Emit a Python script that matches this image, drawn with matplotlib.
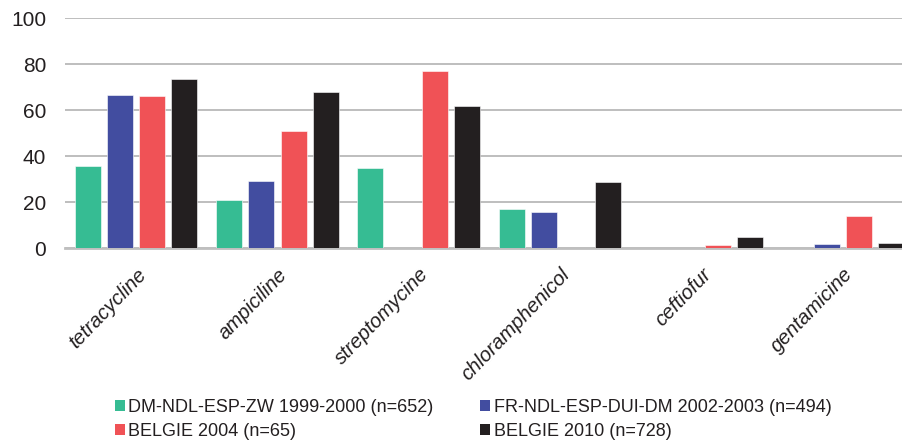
import numpy as np
import matplotlib.pyplot as plt
from matplotlib.patches import Patch

plt.rcParams['font.family'] = ['Liberation Sans', 'DejaVu Sans']

# antibiotica en resistentie-percentages per periode
antibiotica = ['tetracycline', 'ampiciline', 'streptomycine', 'chloramphenicol', 'ceftiofur', 'gentamicine']
reeksen = ['DM-NDL-ESP-ZW 1999-2000 (n=652)', 'FR-NDL-ESP-DUI-DM 2002-2003 (n=494)',
           'BELGIE 2004 (n=65)', 'BELGIE 2010 (n=728)']
dm_ndl_1999 = [35.5, 21, 35, 16.8, 0, 0]
fr_ndl_2002 = [66.4, 29.2, 0, 15.8, 0, 1.6]
belgie_2004 = [66.2, 50.8, 77.2, 0, 1.4, 13.8]
belgie_2010 = [73.4, 67.8, 62, 28.6, 4.8, 2.2]
kleuren = ['#36bc93', '#424da0', '#f05256', '#231f20']

waarden = [dm_ndl_1999, fr_ndl_2002, belgie_2004, belgie_2010]

fig = plt.figure(figsize=(9.03, 4.43), dpi=100)
# laatste groep loopt tot tegen de rand van de figuur
ax = fig.add_axes([0.0725, 0.44, 0.939, 0.519])

x = np.arange(len(antibiotica))
breedte = 0.184
stap = 0.228
for i, (vals, kleur) in enumerate(zip(waarden, kleuren)):
    ax.bar(x + (i - 1.5) * stap, vals, breedte, color=kleur, edgecolor='white', linewidth=0.4, zorder=3)

ax.set_xlim(-0.5, len(antibiotica) - 0.5)
ax.set_ylim(0, 100)
ax.set_yticks([0, 20, 40, 60, 80, 100])
ax.yaxis.grid(True, color='#b3b3b3', linewidth=1.2, zorder=0)
ax.tick_params(axis='y', length=0, labelsize=15, pad=14, colors='#231f20')
ax.tick_params(axis='x', length=0, pad=12)

for s in ['top', 'right', 'left']:
    ax.spines[s].set_visible(False)
ax.spines['bottom'].set_color('#bfbfbf')
ax.spines['bottom'].set_linewidth(2)

ax.set_xticks(x)
ax.set_xticklabels(antibiotica, rotation=46, ha='right', rotation_mode='anchor',
                   fontsize=14.5, style='italic', color='#231f20')

# legenda rij per rij: matplotlib vult kolommen, dus volgorde omzetten
volgorde = [0, 2, 1, 3]
handles = [Patch(facecolor=kleuren[i], edgecolor='none') for i in volgorde]
labels = [reeksen[i] for i in volgorde]
leg = fig.legend(handles, labels, loc='lower left', bbox_to_anchor=(0.124, 0.0), ncol=2,
                 frameon=False, fontsize=13, handlelength=0.55, handleheight=0.55,
                 handletextpad=0.2, columnspacing=2.6, labelspacing=0.4,
                 borderaxespad=0.0, borderpad=0.15)
for t in leg.get_texts():
    t.set_color('#231f20')

fig.savefig('out.png', dpi=100)
